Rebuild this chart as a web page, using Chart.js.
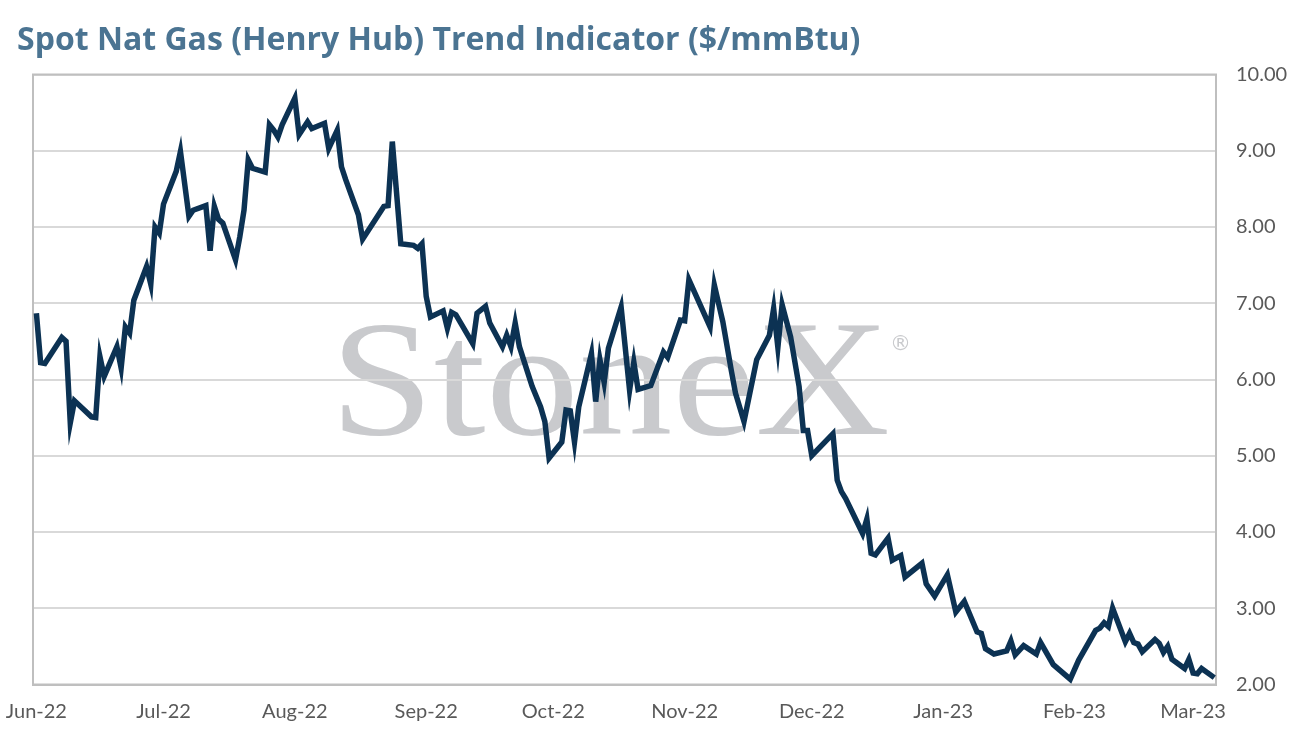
<!DOCTYPE html>
<html>
<head>
<meta charset="utf-8">
<title>Spot Nat Gas (Henry Hub) Trend Indicator</title>
<script src="https://cdn.jsdelivr.net/npm/chart.js@4.4.1/dist/chart.umd.min.js"></script>
<style>
    html, body { margin: 0; padding: 0; background: #ffffff; }
    #wrap { position: relative; width: 1294px; height: 744px; }
</style>
</head>
<body>
<div id="wrap"><canvas id="gasChart"></canvas></div>
<script>
// Datos (días desde el 1 jun 2022 y precio spot $/mmBtu)
const dayOffsets = [
    0, 1, 2, 6, 7, 8, 9, 13, 14, 15, 16, 19, 20, 21, 22, 23, 26, 27, 28, 29,
    30, 33, 34, 36, 37, 40, 41, 42, 43, 44, 47, 48, 49, 50, 51, 54, 55, 56, 57, 58,
    61, 62, 64, 65, 68, 69, 71, 72, 73, 76, 77, 82, 83, 84, 86, 89, 90, 91, 92, 93,
    96, 97, 98, 99, 103, 104, 106, 107, 110, 111, 112, 113, 114, 117, 119, 120, 121, 124, 125, 126,
    127, 128, 131, 132, 133, 134, 135, 138, 140, 141, 142, 145, 148, 149, 152, 153, 154, 159, 160, 162,
    164, 165, 167, 170, 173, 174, 175, 176, 178, 180, 181, 182, 183, 188, 189, 190, 191, 195, 196, 197,
    198, 201, 202, 204, 205, 209, 210, 212, 215, 217, 219, 222, 223, 224, 226, 229, 230, 231, 233, 236,
    237, 240, 244, 246, 250, 251, 252, 253, 254, 257, 258, 259, 260, 261, 264, 265, 266, 267, 268, 271,
    272, 273, 274, 275, 278
];
const prices = [
    6.87, 6.22, 6.21, 6.55, 6.50, 5.43, 5.72, 5.51, 5.50, 6.30, 6.04, 6.43, 6.15, 6.69, 6.61, 7.04, 7.48, 7.25, 8.00, 7.92,
    8.30, 8.73, 8.99, 8.14, 8.22, 8.28, 7.69, 8.27, 8.10, 8.05, 7.57, 7.87, 8.22, 8.88, 8.77, 8.72, 9.34, 9.27, 9.18, 9.34,
    9.69, 9.21, 9.38, 9.29, 9.36, 9.03, 9.27, 8.79, 8.62, 8.16, 7.84, 8.27, 8.28, 9.12, 7.78, 7.76, 7.72, 7.78, 7.09, 6.82,
    6.90, 6.67, 6.88, 6.85, 6.47, 6.87, 6.96, 6.74, 6.43, 6.58, 6.43, 6.74, 6.43, 5.91, 5.64, 5.45, 4.97, 5.18, 5.60, 5.59,
    5.18, 5.64, 6.34, 5.71, 6.26, 5.96, 6.41, 6.95, 5.86, 6.23, 5.87, 5.92, 6.36, 6.29, 6.78, 6.77, 7.31, 6.69, 7.24, 6.76,
    6.12, 5.82, 5.45, 6.26, 6.58, 6.93, 6.42, 6.98, 6.56, 5.91, 5.33, 5.33, 5.00, 5.29, 4.68, 4.53, 4.44, 3.98, 4.17, 3.72,
    3.70, 3.92, 3.63, 3.69, 3.41, 3.59, 3.32, 3.16, 3.44, 2.95, 3.09, 2.69, 2.67, 2.47, 2.40, 2.44, 2.57, 2.39, 2.51, 2.40,
    2.55, 2.26, 2.07, 2.32, 2.71, 2.74, 2.81, 2.76, 3.00, 2.56, 2.67, 2.55, 2.53, 2.43, 2.59, 2.54, 2.42, 2.50, 2.33, 2.21,
    2.33, 2.15, 2.14, 2.21, 2.09
];
// Inicio de cada mes (días desde el 1 jun 2022)
const monthTicks = [0, 30, 61, 92, 122, 153, 183, 214, 245, 273];
const monthLabels = ['Jun-22', 'Jul-22', 'Aug-22', 'Sep-22', 'Oct-22', 'Nov-22', 'Dec-22', 'Jan-23', 'Feb-23', 'Mar-23'];
const yTicks = [2, 3, 4, 5, 6, 7, 8, 9, 10];

const titleText = 'Spot Nat Gas (Henry Hub) Trend Indicator ($/mmBtu)';

// Título y marca de agua dibujados antes de la grilla
const fondoPlugin = {
    id: 'fondo',
    beforeDraw(chart) {
        const { ctx } = chart;
        ctx.save();
        ctx.fillStyle = '#4b7492';
        ctx.font = 'bold 32px "Open Sans", Lato, sans-serif';
        ctx.textBaseline = 'alphabetic';
        ctx.textAlign = 'left';
        ctx.fillText(titleText, 17, 50);

        // marca de agua StoneX
        ctx.fillStyle = '#c9cacd';
        ctx.font = '166px "Liberation Serif", "DejaVu Serif", serif';
        const w = ctx.measureText('StoneX').width;
        ctx.translate(330, 434);
        ctx.scale(560 / w, 1);
        ctx.fillText('StoneX', 0, 0);
        ctx.restore();

        ctx.save();
        ctx.fillStyle = '#c9cacd';
        ctx.font = '21px "DejaVu Sans", sans-serif';
        ctx.textBaseline = 'alphabetic';
        ctx.fillText('®', 890, 350);
        ctx.restore();
    },
    beforeDatasetsDraw(chart) {
        const { ctx, chartArea } = chart;
        ctx.save();
        ctx.strokeStyle = '#bfbfbf';
        ctx.lineWidth = 2;
        ctx.strokeRect(chartArea.left, chartArea.top, chartArea.right - chartArea.left, chartArea.bottom - chartArea.top);
        ctx.restore();
    }
};

const ctx = document.getElementById('gasChart').getContext('2d');
const gasChart = new Chart(ctx, {
    type: 'line',
    data: {
        datasets: [{
            label: 'Henry Hub',
            data: dayOffsets.map((d, i) => ({ x: d, y: prices[i] })),
            borderColor: '#0c3253',
            borderWidth: 5.5,
            pointRadius: 0,
            tension: 0,
            fill: false
        }]
    },
    options: {
        responsive: true,
        maintainAspectRatio: false,
        animation: false,
        devicePixelRatio: 1,
        layout: { padding: { top: 74.5, left: 33, right: 0, bottom: 0 } },
        plugins: {
            legend: { display: false },
            title: { display: false },
            tooltip: { enabled: false }
        },
        scales: {
            x: {
                type: 'linear',
                min: -0.8,
                max: 278.4,
                afterBuildTicks: scale => {
                    scale.ticks = monthTicks.map(v => ({ value: v }));
                },
                afterFit: scale => {
                    scale.height = 59.5;
                    scale.paddingLeft = 0;
                    scale.paddingRight = 0;
                },
                grid: { display: false, drawTicks: false },
                border: { display: true, color: '#bfbfbf', width: 2 },
                ticks: {
                    autoSkip: false,
                    maxRotation: 0,
                    padding: 15,
                    color: '#595959',
                    font: { family: 'Lato, "Open Sans", sans-serif', size: 20 },
                    callback: (value, index) => monthLabels[index]
                }
            },
            y: {
                position: 'right',
                min: yTicks[0],
                max: yTicks[yTicks.length - 1],
                afterBuildTicks: scale => {
                    scale.ticks = yTicks.map(v => ({ value: v }));
                },
                afterFit: scale => {
                    scale.width = 78;
                    scale.paddingTop = 0;
                    scale.paddingBottom = 0;
                },
                grid: { color: '#d9d9d9', lineWidth: 2, drawTicks: false },
                border: { display: true, color: '#bfbfbf', width: 2 },
                ticks: {
                    padding: 20,
                    color: '#595959',
                    font: { family: 'Lato, "Open Sans", sans-serif', size: 20 },
                    callback: value => Number(value).toFixed(2)
                }
            }
        }
    },
    plugins: [fondoPlugin]
});
</script>
</body>
</html>
